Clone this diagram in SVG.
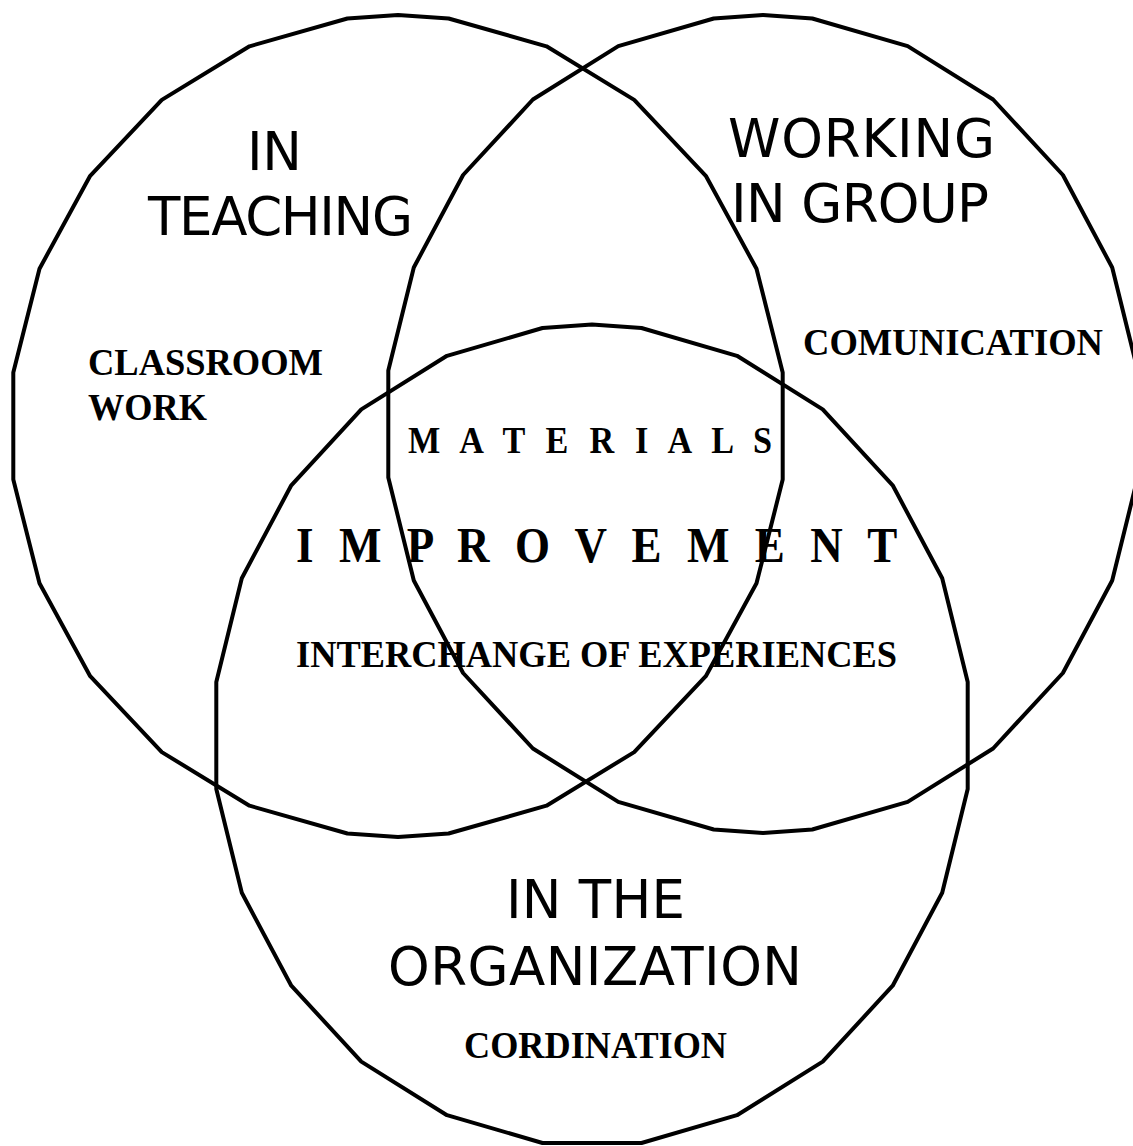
<svg xmlns="http://www.w3.org/2000/svg" width="1133" height="1146" viewBox="0 0 1133 1146">
  <style>
    .ring { fill: none; stroke: #000; stroke-width: 4; stroke-linejoin: round; }
    .title { font-family: "DejaVu Sans", "Liberation Sans", sans-serif; font-size: 53px; fill: #000; }
    .note { font-family: "Liberation Serif", "Times New Roman", serif; font-weight: bold; font-size: 38px; fill: #000; }
    .spaced { font-family: "Liberation Serif", "Times New Roman", serif; font-weight: bold; fill: #000; }
  </style>
  <rect width="1133" height="1146" fill="#fff"/>

  <!-- Teaching set (upper left) -->
  <g id="teaching">
    <polygon class="ring" points="398,15 448.6,18.5 546.5,46.3 634.2,99.9 705.8,175.8 756.5,268.7 782.7,372.4 782.7,479.6 756.5,583.3 705.8,676.2 634.2,752.1 546.5,805.7 448.6,833.5 398,837 347.4,833.5 249.5,805.7 161.8,752.1 90.2,676.2 39.5,583.3 13.3,479.6 13.3,372.4 39.5,268.7 90.2,175.8 161.8,99.9 249.5,46.3 347.4,18.5"/>
  </g>

  <!-- Group work set (upper right) -->
  <g id="group-work">
    <polygon class="ring" points="763,15 812.3,18.5 907.7,46.1 993.1,99.5 1062.9,175 1112.2,267.5 1137.7,370.6 1137.7,477.4 1112.2,580.5 1062.9,673 993.1,748.5 907.7,801.9 812.3,829.5 763,833 713.7,829.5 618.3,801.9 532.9,748.5 463.1,673 413.8,580.5 388.3,477.4 388.3,370.6 413.8,267.5 463.1,175 532.9,99.5 618.3,46.1 713.7,18.5"/>
  </g>

  <!-- Organization set (bottom) -->
  <g id="organization">
    <polygon class="ring" points="592,324.5 641.5,328 737,355.8 822.7,409.4 892.7,485.3 942.2,578.2 967.7,681.9 967.7,789.1 942.2,892.8 892.7,985.7 822.7,1061.6 737,1115.2 641.5,1143 542.5,1143 447,1115.2 361.3,1061.6 291.3,985.7 241.8,892.8 216.3,789.1 216.3,681.9 241.8,578.2 291.3,485.3 361.3,409.4 447,355.8 542.5,328"/>
  </g>

  <!-- Set labels -->
  <g id="teaching-labels">
    <text class="title" x="247" y="170" textLength="55">IN</text>
    <text class="title" x="148" y="235" textLength="265">TEACHING</text>
    <text class="note" x="88" y="375" textLength="235" lengthAdjust="spacingAndGlyphs">CLASSROOM</text>
    <text class="note" x="88" y="420" textLength="119" lengthAdjust="spacingAndGlyphs">WORK</text>
  </g>
  <g id="group-work-labels">
    <text class="title" x="728" y="157" textLength="267">WORKING</text>
    <text class="title" x="731" y="222" textLength="258">IN GROUP</text>
    <text class="note" x="803" y="355" textLength="300" lengthAdjust="spacingAndGlyphs">COMUNICATION</text>
  </g>
  <g id="organization-labels">
    <text class="title" x="506" y="918" textLength="179">IN THE</text>
    <text class="title" x="388" y="985" textLength="414">ORGANIZATION</text>
    <text class="note" x="464" y="1058" textLength="263" lengthAdjust="spacingAndGlyphs">CORDINATION</text>
  </g>

  <!-- Shared centre -->
  <g id="centre">
    <text class="spaced" transform="translate(408,453) scale(0.9,1)" font-size="38" letter-spacing="6.9">M A T E R I A L S</text>
    <text class="spaced" transform="translate(296,562) scale(0.9,1)" font-size="50" letter-spacing="7.85">I M P R O V E M E N T</text>
    <text class="note" x="296" y="667" textLength="601" lengthAdjust="spacingAndGlyphs">INTERCHANGE OF EXPERIENCES</text>
  </g>
</svg>
